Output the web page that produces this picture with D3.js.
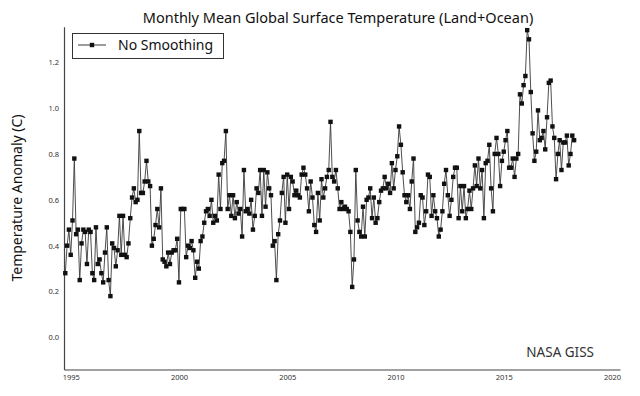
<!DOCTYPE html>
<html>
<head>
<meta charset="utf-8">
<script src="https://cdn.jsdelivr.net/npm/d3@7"></script>
<style>
  html, body { margin: 0; padding: 0; background: #fff; }
  svg { display: block; }
  text { font-family: "Noto Sans", "Open Sans", sans-serif; }
</style>
</head>
<body>
<svg id="chart" width="640" height="396"></svg>
<script>
// ---- data ----
const startYear = 1994;
const startMonth = 10; // October 1994, monthly series
const values = [
  0.28,0.40,0.47,0.36,0.51,0.78,0.45,0.47,0.25,0.41,0.47,0.46,0.32,0.47,0.46,0.28,0.25,0.48,0.32,0.34,0.28,0.24,0.37,0.48,0.25,0.18,0.41,0.39,0.31,0.38,0.53,
  0.36,0.53,0.36,0.35,0.41,0.52,0.61,0.65,0.59,0.60,0.90,0.63,0.63,0.68,0.77,0.68,0.66,0.40,0.43,0.49,0.56,0.48,0.65,0.34,0.33,0.31,0.37,0.32,0.37,0.38,0.38,0.43,
  0.24,0.56,0.56,0.56,0.35,0.40,0.39,0.42,0.38,0.26,0.33,0.30,0.42,0.44,0.50,0.55,0.56,0.53,0.60,0.50,0.53,0.51,0.71,0.56,0.76,0.77,0.90,0.56,0.62,0.53,0.62,0.52,
  0.59,0.54,0.56,0.44,0.73,0.55,0.56,0.54,0.60,0.47,0.53,0.65,0.63,0.73,0.53,0.73,0.57,0.72,0.65,0.62,0.40,0.42,0.25,0.45,0.51,0.63,0.70,0.50,0.71,0.56,0.70,0.68,
  0.62,0.64,0.62,0.61,0.71,0.74,0.71,0.65,0.55,0.68,0.61,0.49,0.46,0.63,0.51,0.69,0.61,0.65,0.70,0.73,0.94,0.70,0.68,0.73,0.65,0.56,0.59,0.56,0.57,0.56,0.55,0.46,0.22,
  0.34,0.73,0.51,0.46,0.44,0.57,0.44,0.60,0.61,0.65,0.52,0.61,0.50,0.52,0.59,0.64,0.65,0.70,0.65,0.67,0.63,0.76,0.65,0.73,0.79,0.92,0.84,0.72,0.62,0.59,0.62,0.56,
  0.68,0.78,0.46,0.48,0.50,0.62,0.61,0.49,0.55,0.71,0.70,0.53,0.62,0.55,0.52,0.44,0.47,0.55,0.67,0.73,0.62,0.53,0.60,0.70,0.74,0.74,0.52,0.66,0.55,0.66,0.52,0.56,
  0.64,0.56,0.65,0.75,0.66,0.78,0.65,0.73,0.52,0.76,0.77,0.84,0.65,0.55,0.80,0.87,0.80,0.66,0.77,0.81,0.86,0.90,0.74,0.74,0.78,0.70,0.78,0.80,1.06,1.02,1.10,1.14,
  1.34,1.30,1.07,0.89,0.77,0.81,0.99,0.86,0.87,0.90,0.82,0.96,1.11,1.12,0.92,0.87,0.69,0.80,0.86,0.73,0.85,0.85,0.88,0.75,0.80,0.88,0.86
];
const xTicks = [1995, 2000, 2005, 2010, 2015, 2020];
const yTicks = [0.0, 0.2, 0.4, 0.6, 0.8, 1.0, 1.2];
const titleText = "Monthly Mean Global Surface Temperature (Land+Ocean)";
const yLabelText = "Temperature Anomaly (C)";
const seriesName = "No Smoothing";
const sourceText = "NASA GISS";

// ---- build ----
const data = values.map((v, i) => ({
  t: startYear + (startMonth - 1 + i) / 12,
  v: v
}));

const svg = d3.select("#chart");
svg.append("rect").attr("width", 640).attr("height", 396).attr("fill", "#fff");

const x = d3.scaleLinear().domain([1994.69, 2020.37]).range([64, 620]);
const y = d3.scaleLinear().domain([-0.14, 1.355]).range([369.5, 26.7]);

// axes
const gx = svg.append("g")
  .attr("transform", `translate(0,${y.range()[0]})`)
  .call(d3.axisBottom(x).tickValues(xTicks).tickFormat(d3.format("d")).tickSize(0).tickPadding(5));
const gy = svg.append("g")
  .attr("transform", `translate(${x.range()[0]},0)`)
  .call(d3.axisLeft(y).tickValues(yTicks).tickFormat(d3.format(".1f")).tickSize(0).tickPadding(5));

[gx, gy].forEach(g => {
  g.select(".domain").attr("stroke", "#444").attr("stroke-width", 1.2);
  g.selectAll("text")
    .attr("fill", "#333")
    .style("font-size", "7.5px")
    .style("font-family", "'Noto Sans', sans-serif");
});

// line
const line = d3.line().x(d => x(d.t)).y(d => y(d.v));
svg.append("path")
  .datum(data)
  .attr("fill", "none")
  .attr("stroke", "#3a3a3a")
  .attr("stroke-width", 0.9)
  .attr("d", line);

// markers
const ms = 4.4;
svg.append("g").selectAll("rect")
  .data(data)
  .join("rect")
  .attr("x", d => x(d.t) - ms / 2)
  .attr("y", d => y(d.v) - ms / 2)
  .attr("width", ms)
  .attr("height", ms)
  .attr("fill", "#111");

// title
svg.append("text")
  .attr("x", 338)
  .attr("y", 23)
  .attr("text-anchor", "middle")
  .attr("fill", "#111")
  .style("font-size", "14.5px")
  .text(titleText);

// y label
svg.append("text")
  .attr("transform", "translate(22,198) rotate(-90)")
  .attr("text-anchor", "middle")
  .attr("fill", "#111")
  .style("font-size", "14px")
  .text(yLabelText);

// legend
const lg = svg.append("g");
lg.append("rect")
  .attr("x", 72.5).attr("y", 33.5)
  .attr("width", 151).attr("height", 25)
  .attr("fill", "#fff")
  .attr("stroke", "#333").attr("stroke-width", 1);
lg.append("line")
  .attr("x1", 78).attr("x2", 106).attr("y1", 45).attr("y2", 45)
  .attr("stroke", "#3a3a3a").attr("stroke-width", 1);
lg.append("rect")
  .attr("x", 92 - ms / 2).attr("y", 45 - ms / 2)
  .attr("width", ms).attr("height", ms).attr("fill", "#111");
lg.append("text")
  .attr("x", 118).attr("y", 50)
  .attr("fill", "#111")
  .style("font-size", "14px")
  .text(seriesName);

// source
svg.append("text")
  .attr("x", 594)
  .attr("y", 357)
  .attr("text-anchor", "end")
  .attr("fill", "#333")
  .style("font-size", "13.5px")
  .text(sourceText);
</script>
</body>
</html>
